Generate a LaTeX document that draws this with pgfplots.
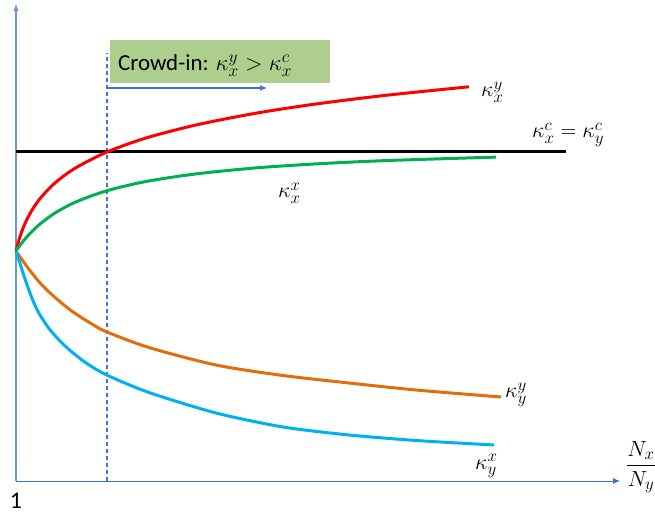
\RequirePackage{fix-cm}
\documentclass[border=0pt]{standalone}
\usepackage{pgfplots}
\pgfplotsset{compat=1.18}
\usepackage{fontspec}
\setmainfont{Carlito}
\usetikzlibrary{arrows.meta}
\DeclareMathSizes{22}{22}{17}{13}
\DeclareMathSizes{23}{23}{17.5}{13}
\definecolor{axblue}{HTML}{4472C4}
\definecolor{redc}{HTML}{FF0000}
\definecolor{greenc}{HTML}{00B050}
\definecolor{orangec}{HTML}{E46C0A}
\definecolor{cyanc}{HTML}{00B0F0}
\definecolor{boxgreen}{RGB}{174,206,142}
\tikzset{lbl/.style={anchor=base west, inner sep=0pt, font=\fontsize{22}{26}\selectfont}}
\begin{document}
\begin{tikzpicture}
\begin{axis}[
  scale only axis, width=604bp, height=477bp,
  xmin=0, xmax=604, ymin=0, ymax=477,
  axis lines=left,
  x axis line style={draw=axblue, line width=1bp, -{Latex[length=7bp,width=6bp]}},
  y axis line style={draw=axblue!75, line width=1.3bp, -{Latex[length=7bp,width=6bp]}},
  xtick={0}, xticklabels={1}, ytick=\empty,
  major tick length=0pt,
  xticklabel style={font=\fontsize{24}{28}\selectfont, anchor=north, yshift=-9bp},
  /pgf/number format/assume math mode=true,
  clip=false,
]
% green box with text
\fill[boxgreen] (axis cs:94,398) rectangle (axis cs:314,441);
\node[anchor=base west, inner sep=0pt, font=\fontsize{23}{27}\selectfont] at (axis cs:102,410)
  {Crowd-in: $\kappa_x^y > \kappa_x^c$};
% dashed vertical threshold and arrow
\draw[axblue, line width=1.1bp, dash pattern=on 4bp off 3bp] (axis cs:91,0) -- (axis cs:91,428);
\draw[axblue, line width=1.1bp, -{Latex[length=7bp,width=6bp]}] (axis cs:91,393) -- (axis cs:251,393);

% kappa^c line
\addplot[black, line width=3bp] coordinates {(0,329.3) (550,329.3)};

% kappa_x^y (red)
\addplot[redc, line width=3bp, smooth] coordinates {
(0,230) (3,241.2) (8,255.2) (15,269.2) (25,283.6) (40,298.9) (60,313.3)
(91,329.0) (130,343.0) (180,356.0) (240,367.8) (300,377.0) (370,385.7) (453,394.2)};

% kappa_x^x (green)
\addplot[greenc, line width=3bp, smooth] coordinates {
(0,230) (3,234.3) (8,240.8) (15,248.6) (25,257.8) (40,268.6) (60,279.1)
(91,290.3) (130,299.5) (180,307.1) (240,313.1) (300,317.1) (370,320.4) (480,323.9)};

% kappa_y^y (orange)
\addplot[orangec, line width=3bp, smooth] coordinates {
(0,230) (6,221.3) (14,210.5) (25,197) (38,184.5) (55,170.5) (75,157.5) (91,149)
(133,133.5) (200,116) (267,105.5) (333,98) (400,91) (485,84)};

% kappa_y^x (cyan)
\addplot[cyanc, line width=3bp, smooth, tension=0.45] coordinates {
(0,230) (5.3,213.5) (9,202) (14.7,186) (22,169.5) (33,152.5) (48,136) (68,119.5)
(90.7,106) (133,88.5) (200,68) (267,54) (333,46) (400,40.5) (478,36)};

% labels
\node[lbl] at (axis cs:465,384) {$\kappa_x^y$};
\node[lbl] at (axis cs:516,343) {$\kappa_x^c = \kappa_y^c$};
\node[lbl] at (axis cs:262,283) {$\kappa_x^x$};
\node[lbl] at (axis cs:489,83) {$\kappa_y^y$};
\node[lbl] at (axis cs:459,12) {$\kappa_y^x$};
\node[inner sep=0pt, font=\fontsize{22}{26}\selectfont] at (axis cs:625,14) {$\displaystyle\frac{N_x}{N_y}$};

\coordinate (bbl) at (axis cs:-16,-34);
\coordinate (btr) at (axis cs:639,481);
\end{axis}
\pgfresetboundingbox
\path (bbl) rectangle (btr);
\end{tikzpicture}
\end{document}
